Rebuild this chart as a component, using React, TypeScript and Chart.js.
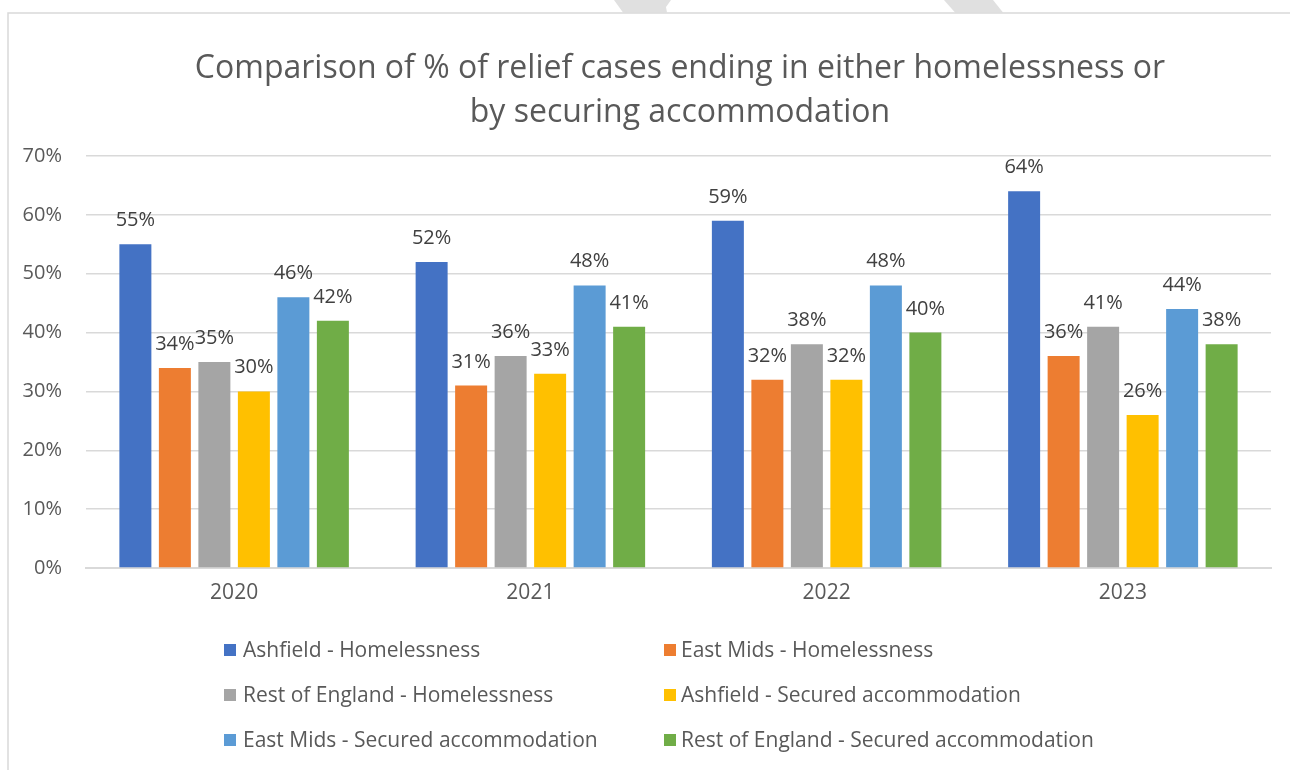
import React, { useEffect, useRef } from "react";
import { Chart, registerables } from "chart.js";

Chart.register(...registerables);

const categories = ["2020", "2021", "2022", "2023"];
const seriesNames = [
  "Ashfield - Homelessness",
  "East Mids - Homelessness",
  "Rest of England - Homelessness",
  "Ashfield - Secured accommodation",
  "East Mids - Secured accommodation",
  "Rest of England - Secured accommodation",
];
const ashfieldHomelessness = [55, 52, 59, 64];
const eastMidsHomelessness = [34, 31, 32, 36];
const restOfEnglandHomelessness = [35, 36, 38, 41];
const ashfieldSecured = [30, 33, 32, 26];
const eastMidsSecured = [46, 48, 48, 44];
const restOfEnglandSecured = [42, 41, 40, 38];
const seriesColors = ["#4472C4", "#ED7D31", "#A5A5A5", "#FFC000", "#5B9BD5", "#70AD47"];
const titleLines = [
  "Comparison of % of relief cases ending in either homelessness or",
  "by securing accommodation",
];

const FONT = "'Open Sans', 'DejaVu Sans', sans-serif";

const decorPlugin = {
  id: "decor",
  beforeDraw(chart: any) {
    const ctx = chart.ctx;
    ctx.save();
    ctx.fillStyle = "#ffffff";
    ctx.fillRect(0, 0, chart.width, chart.height);
    // watermark fragments at the top
    ctx.fillStyle = "#e0e0e0";
    ctx.beginPath();
    ctx.moveTo(614, 0);
    ctx.lineTo(671, 0);
    ctx.lineTo(666, 7);
    ctx.lineTo(667, 12.5);
    ctx.lineTo(623, 12.5);
    ctx.closePath();
    ctx.fill();
    ctx.beginPath();
    ctx.moveTo(944, 0);
    ctx.lineTo(993, 0);
    ctx.lineTo(1003, 12.5);
    ctx.lineTo(955, 12.5);
    ctx.closePath();
    ctx.fill();
    // chart frame
    ctx.strokeStyle = "#d9d9d9";
    ctx.lineWidth = 1.5;
    ctx.beginPath();
    ctx.moveTo(8, 770);
    ctx.lineTo(8, 13);
    ctx.lineTo(1290, 13);
    ctx.stroke();
    // title
    ctx.fillStyle = "#595959";
    ctx.font = `32px ${FONT}`;
    ctx.textAlign = "center";
    ctx.textBaseline = "alphabetic";
    ctx.fillText(titleLines[0], 680, 78);
    ctx.fillText(titleLines[1], 680, 122);
    ctx.restore();
  },
  afterDatasetsDraw(chart: any) {
    const ctx = chart.ctx;
    ctx.save();
    ctx.font = `20px ${FONT}`;
    ctx.fillStyle = "#404040";
    ctx.textAlign = "center";
    ctx.textBaseline = "alphabetic";
    chart.data.datasets.forEach((ds: any, i: number) => {
      const meta = chart.getDatasetMeta(i);
      meta.data.forEach((el: any, j: number) => {
        ctx.fillText(`${ds.data[j]}%`, el.x, el.y - 18);
      });
    });
    ctx.restore();
  },
  afterDraw(chart: any) {
    const ctx = chart.ctx;
    ctx.save();
    ctx.font = `21px ${FONT}`;
    ctx.textAlign = "left";
    ctx.textBaseline = "middle";
    const colBox = [224, 664];
    const colText = [243, 681];
    const rowY = [650, 695, 740];
    chart.data.datasets.forEach((ds: any, i: number) => {
      const col = i % 2;
      const row = Math.floor(i / 2);
      ctx.fillStyle = ds.backgroundColor;
      ctx.fillRect(colBox[col], rowY[row] - 6, 12, 12);
      ctx.fillStyle = "#595959";
      ctx.fillText(ds.label, colText[col], rowY[row] + 1);
    });
    ctx.restore();
  },
};

export default function App() {
  const canvasRef = useRef<HTMLCanvasElement | null>(null);

  useEffect(() => {
    if (!canvasRef.current) return;
    const allSeries = [
      ashfieldHomelessness,
      eastMidsHomelessness,
      restOfEnglandHomelessness,
      ashfieldSecured,
      eastMidsSecured,
      restOfEnglandSecured,
    ];
    const chart = new Chart(canvasRef.current, {
      type: "bar",
      data: {
        labels: categories,
        datasets: allSeries.map((d, i) => ({
          label: seriesNames[i],
          data: d,
          backgroundColor: seriesColors[i],
          borderWidth: 0,
          categoryPercentage: 0.8,
          barPercentage: 0.81,
        })),
      },
      options: {
        responsive: false,
        animation: false,
        layout: { padding: { top: 156, right: 19, bottom: 142, left: 0 } },
        plugins: {
          legend: { display: false },
          title: { display: false },
          tooltip: { enabled: false },
        },
        scales: {
          x: {
            grid: { display: false, drawTicks: false },
            border: { display: true, color: "#d9d9d9", width: 2 },
            ticks: {
              color: "#595959",
              font: { family: FONT, size: 21 },
              padding: 12,
            },
            afterFit(scale: any) {
              scale.height = 60;
            },
          },
          y: {
            min: 0,
            max: 70,
            ticks: {
              stepSize: 10,
              color: "#595959",
              font: { family: FONT, size: 20 },
              padding: 24,
              callback: (v: any) => `${v}%`,
            },
            grid: { color: "#d9d9d9", lineWidth: 1.5, drawTicks: false },
            border: { display: false },
            afterFit(scale: any) {
              scale.width = 86;
            },
          },
        },
      },
      plugins: [decorPlugin],
    });
    return () => chart.destroy();
  }, []);

  return (
    <div style={{ position: "absolute", left: 0, top: 0, width: 1290, height: 770, background: "#fff" }}>
      <canvas ref={canvasRef} width={1290} height={770} style={{ display: "block" }} />
    </div>
  );
}
